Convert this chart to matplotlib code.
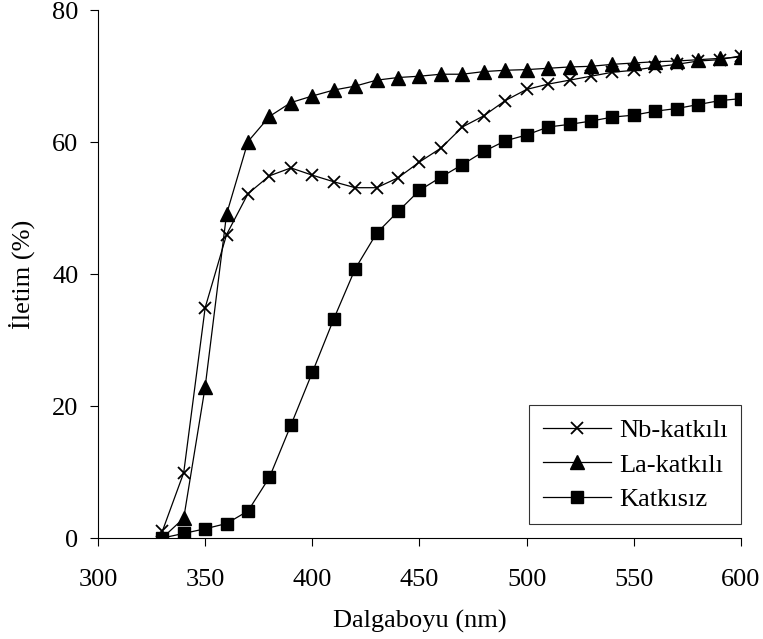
"""Optical transmittance of doped and undoped films versus wavelength."""
import matplotlib
matplotlib.use('Agg')
import matplotlib.pyplot as plt

plt.rcParams['font.family'] = ['Liberation Serif', 'DejaVu Serif']

# wavelength (nm)
wavelength = [330, 340, 350, 360, 370, 380, 390, 400, 410, 420,
              430, 440, 450, 460, 470, 480, 490, 500, 510, 520,
              530, 540, 550, 560, 570, 580, 590, 600]

# transmittance (%)
nb_doped = [1.0, 9.9, 34.9, 46.0, 52.2, 54.9, 56.1, 55.0, 54.0, 53.1,
            53.1, 54.6, 57.0, 59.1, 62.3, 64.0, 66.3, 68.0, 68.8, 69.4,
            70.0, 70.6, 70.9, 71.4, 71.8, 72.3, 72.5, 73.1]
la_doped = [0.0, 3.0, 22.9, 49.1, 60.1, 63.9, 66.0, 67.0, 67.9, 68.5,
            69.4, 69.8, 70.0, 70.3, 70.3, 70.7, 70.9, 71.0, 71.2, 71.4,
            71.5, 71.8, 72.0, 72.2, 72.3, 72.5, 72.7, 72.9]
undoped = [0.0, 0.7, 1.4, 2.2, 4.1, 9.2, 17.1, 25.1, 33.2, 40.8,
           46.2, 49.5, 52.7, 54.7, 56.6, 58.6, 60.2, 61.1, 62.3, 62.7,
           63.2, 63.8, 64.1, 64.7, 65.1, 65.7, 66.3, 66.6]

labels = ['Nb-katkılı', 'La-katkılı', 'Katkısız']
fs = 19

fig = plt.figure(figsize=(7.63, 6.39), dpi=100)
ax = fig.add_axes([0.1284, 0.158, 0.9712 - 0.1284, 0.984 - 0.158])

ax.plot(wavelength, nb_doped, color='black', linewidth=0.9, marker='x',
        markersize=9, markeredgewidth=1.3, label=labels[0])
ax.plot(wavelength, la_doped, color='black', linewidth=0.9, marker='^',
        markersize=10, label=labels[1])
ax.plot(wavelength, undoped, color='black', linewidth=0.9, marker='s',
        markersize=8, label=labels[2])

ax.set_xlim(300, 600)
ax.set_ylim(0, 80)
ax.set_xticks(range(300, 601, 50))
ax.set_yticks(range(0, 81, 20))
ax.spines['top'].set_visible(False)
ax.spines['right'].set_visible(False)
for side in ('left', 'bottom'):
    ax.spines[side].set_linewidth(0.8)
ax.tick_params(axis='x', direction='out', length=6, width=0.8,
               labelsize=fs, pad=16)
ax.tick_params(axis='y', direction='out', length=6, width=0.8,
               labelsize=fs, pad=8)

ax.set_xlabel('Dalgaboyu (nm)', fontsize=fs, labelpad=14)
ax.set_ylabel('İletim (%)', fontsize=fs, labelpad=12)

leg = ax.legend(loc='lower right', bbox_to_anchor=(1.0, 0.026),
                fontsize=fs, frameon=True, fancybox=False,
                edgecolor='black', handlelength=2.6, handletextpad=0.3,
                labelspacing=0.42, borderpad=0.5, borderaxespad=0.0)
leg.get_frame().set_linewidth(0.8)

fig.savefig('out.png', dpi=100)
